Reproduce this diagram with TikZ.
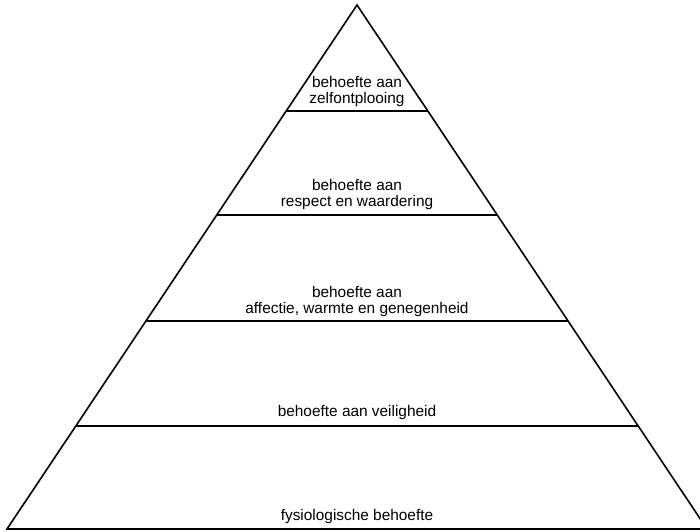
\documentclass[tikz,border=0pt]{standalone}
\usepackage{fontspec}
\setmainfont{Liberation Sans}
\tikzset{
    edge/.style={line width=1.6pt},
    lvltext/.style={font=\fontsize{15.4}{16}\selectfont, align=center, inner sep=0pt, anchor=base}
}

\begin{document}
\begin{tikzpicture}[x=1pt,y=-1pt]
\useasboundingbox (0,0) rectangle (700,531);
\coordinate (top) at (357,5);
\coordinate (bl) at (7,529);
\coordinate (br) at (707,529);
\draw[edge] (bl) -- (top) -- (br) -- cycle;
% level lines, ends on the sides
\foreach \ly/\p in {111/a, 215/b, 321/c, 426/d}{
    \coordinate (\p l) at ({357-0.66794*(\ly-5)},\ly);
    \coordinate (\p r) at ({357+0.66794*(\ly-5)},\ly);
    \draw[edge] (\p l) -- (\p r);
}
\node[lvltext] (zelf) at (357,103) {behoefte aan\\zelfontplooing};
\node[lvltext] (respect) at (357,206) {behoefte aan\\respect en waardering};
\node[lvltext] (affectie) at (357,313) {behoefte aan\\affectie, warmte en genegenheid};
\node[lvltext] (veilig) at (357,416) {behoefte aan veiligheid};
\node[lvltext] (fysio) at (357,520) {fysiologische behoefte};
\end{tikzpicture}
\end{document}
